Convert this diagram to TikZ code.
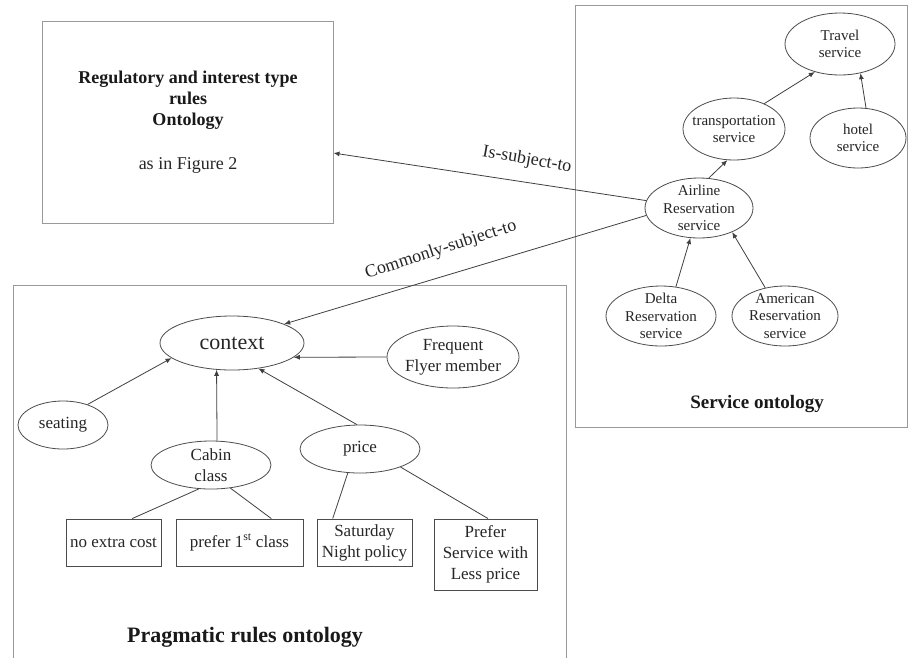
\documentclass[tikz,border=0pt]{standalone}
\usepackage{fontspec}
\setmainfont{Liberation Serif}
\usetikzlibrary{shapes.geometric,arrows.meta}
\begin{document}
\begin{tikzpicture}[x=1pt,y=-1pt,
  ell/.style={draw=black!70, ellipse, line width=0.8pt, inner sep=0pt},
  rbox/.style={draw=black!70, rectangle, line width=0.9pt, inner sep=0pt},
  frame/.style={draw=black!40, rectangle, line width=1pt, inner sep=0pt},
  stxt/.style={font=\fontsize{15}{17.5}\selectfont, align=center, text=black!85, inner sep=0pt},
  ptxt/.style={font=\fontsize{17}{21}\selectfont, align=center, text=black!85, inner sep=0pt},
  btxt/.style={font=\bfseries\fontsize{19}{22}\selectfont, align=center, text=black!90, inner sep=0pt},
  ltxt/.style={font=\fontsize{18}{21}\selectfont, text=black!85, inner sep=0pt},
  conn/.style={draw=black!75, line width=0.8pt},
  arr/.style={conn, -{Latex[length=6pt,width=5pt]}},
]
\fill[white] (0,0) rectangle (909,657);
\useasboundingbox (0,0) rectangle (909,657);

% ---------- frames ----------
\node[frame, minimum width=291, minimum height=202] (reg) at (187.5,122) {};
\node[btxt, font=\bfseries\fontsize{18}{21}\selectfont] (reg-t) at (188,100) {Regulatory and interest type\\rules\\Ontology};
\node[ltxt] (reg-f) at (188,165) {as in Figure 2};

\node[frame, minimum width=332, minimum height=422] (svc) at (741,216) {};
\node[btxt] (svc-t) at (757,404) {Service ontology};

\node[frame, minimum width=553, minimum height=380] (prag) at (289.5,475) {};
\node[btxt, font=\bfseries\fontsize{22}{26}\selectfont] (prag-t) at (245,637) {Pragmatic rules ontology};

% ---------- service ontology ----------
\node[ell, minimum width=110, minimum height=62] (travel) at (840,44) {};
\node[stxt] (travel-t) at (travel) {Travel\\service};
\node[ell, minimum width=102, minimum height=62] (transp) at (734,129) {};
\node[stxt] (transp-t) at (transp) {transportation\\service};
\node[ell, minimum width=96, minimum height=60] (hotel) at (858,138) {};
\node[stxt] (hotel-t) at (hotel) {hotel\\service};
\node[ell, minimum width=108, minimum height=60] (airline) at (699,208) {};
\node[stxt] (airline-t) at (airline) {Airline\\Reservation\\service};
\node[ell, minimum width=110, minimum height=60] (delta) at (661,316) {};
\node[stxt] (delta-t) at (delta) {Delta\\Reservation\\service};
\node[ell, minimum width=106, minimum height=60] (american) at (785,316) {};
\node[stxt] (american-t) at (american) {American\\Reservation\\service};

\draw[arr] (transp.40) -- (travel.-132);
\draw[arr] (hotel.75) -- (travel.-55);
\draw[arr] (airline.72) -- (transp.-102);
\draw[arr] (delta.63) -- (airline.-106);
\draw[arr] (american.125) -- (airline.-36);

% ---------- pragmatic ontology ----------
\node[ell, minimum width=144, minimum height=54] (ctx) at (232,343) {};
\node[ptxt, font=\fontsize{22}{26}\selectfont] (ctx-t) at (ctx) {context};
\node[ell, minimum width=132, minimum height=62] (freq) at (453,357) {};
\node[ptxt] (freq-t) at (freq) {Frequent\\Flyer member};
\node[ell, minimum width=90, minimum height=48] (seat) at (63,425) {};
\node[ptxt] (seat-t) at (seat) {seating};
\node[ell, minimum width=120, minimum height=48] (cabin) at (211,465) {};
\node[ptxt] (cabin-t) at (cabin) {Cabin\\class};
\node[ell, minimum width=120, minimum height=48] (price) at (360,449) {};
\node[ptxt] (price-t) at (price) {price};

\node[rbox, minimum width=95, minimum height=47] (noextra) at (113.5,542.5) {};
\node[ptxt] (noextra-t) at (noextra) {no extra cost};
\node[rbox, minimum width=127, minimum height=47] (prefer) at (239.5,542.5) {};
\node[ptxt] (prefer-t) at (prefer) {prefer 1\textsuperscript{st} class};
\node[rbox, minimum width=95, minimum height=47] (sat) at (364.5,542.5) {};
\node[ptxt] (sat-t) at (sat) {Saturday\\Night policy};
\node[rbox, minimum width=103, minimum height=71] (less) at (485.5,554.5) {};
\node[ptxt] (less-t) at (less) {Prefer\\Service with\\Less price};

\draw[arr] (seat.40) -- (ctx.194);
\draw[arr] (cabin.76) -- (ctx.-120);
\draw[arr] (price.97) -- (ctx.-44);
\draw[arr] (freq.180) -- (ctx.-13);

\draw[conn] (cabin.-117) -- (noextra.52);
\draw[conn] (cabin.-50) -- (prefer.37.6);
\draw[conn] (price.-117) -- (sat.143);
\draw[conn] (price.-24) -- (less.86);

% ---------- cross links ----------
\draw[arr] (airline.172) -- (reg.-12.8);
\draw[arr] (airline.188) -- (ctx.20);
\node[ltxt, rotate=-10] (lbl-is) at (527,160) {Is-subject-to};
\node[ltxt, rotate=18] (lbl-common) at (441,250) {Commonly-subject-to};
\end{tikzpicture}
\end{document}
